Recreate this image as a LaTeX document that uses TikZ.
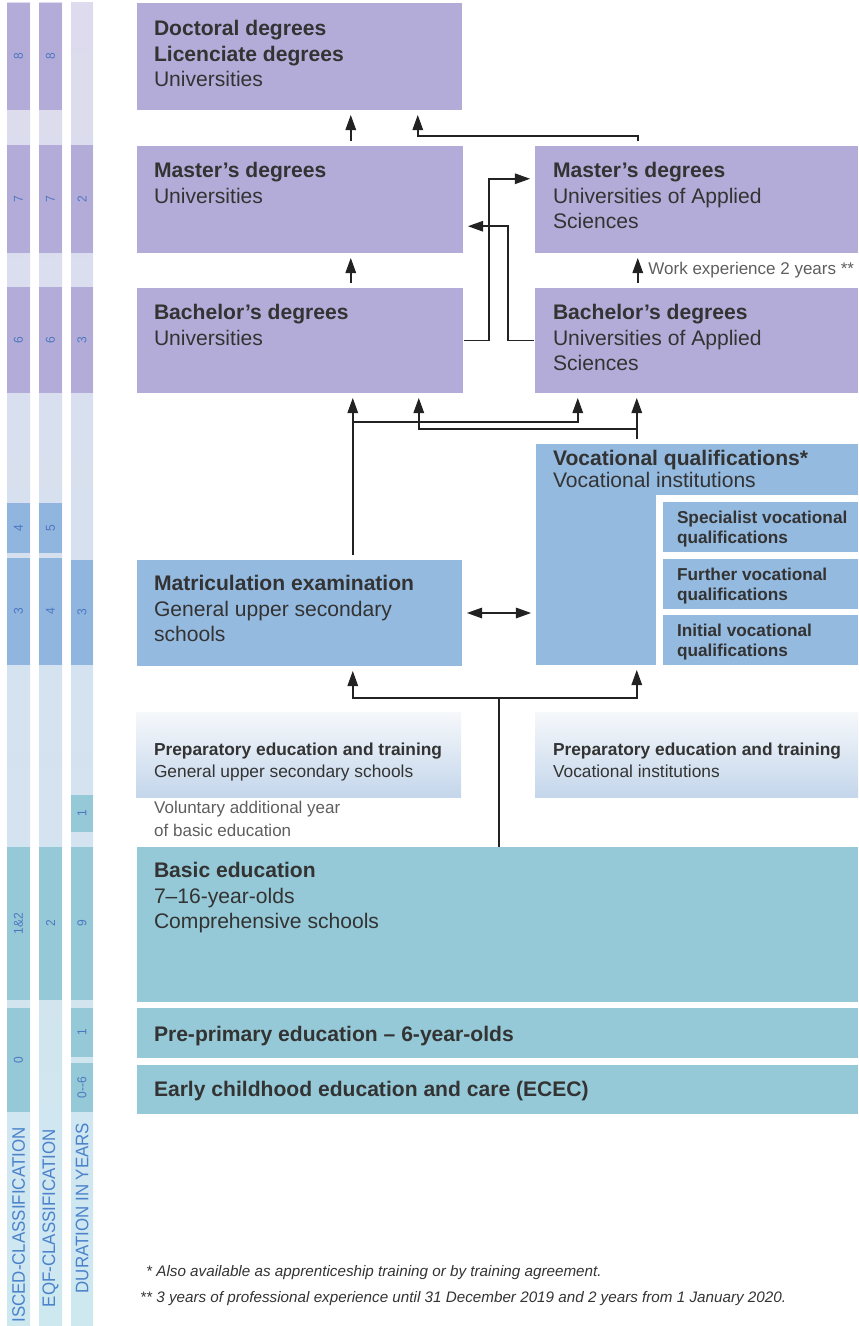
\documentclass[tikz,border=0pt]{standalone}
\usepackage{fontspec}
\setmainfont{Liberation Sans}
\newfontfamily\stripfont[FakeStretch=0.93]{Liberation Sans}
\usetikzlibrary{arrows.meta,positioning,calc,fit}

\definecolor{purp}{HTML}{B4ACD8}
\definecolor{bluebox}{HTML}{95BAE0}
\definecolor{bluestrip}{HTML}{90B5DE}
\definecolor{tealbox}{HTML}{95C9D7}
\definecolor{striptop}{HTML}{DDDBED}
\definecolor{stripmid}{HTML}{D5E0EC}
\definecolor{stripbot}{HTML}{CEE8F0}
\definecolor{preptop}{HTML}{F6F8FB}
\definecolor{prepbot}{HTML}{C4D6EB}
\definecolor{inkdark}{HTML}{222222}
\definecolor{inkgray}{HTML}{333333}
\definecolor{softgray}{HTML}{5E5E5E}
\definecolor{stripink}{HTML}{4A82CC}
\definecolor{numink}{HTML}{4C78C2}

\begin{document}
\begin{tikzpicture}[
  x=0.03cm, y=0.03cm,
  >={Triangle[length=13pt,width=9pt]},
  % ---- Boxes ----
  box/.style={fill=#1, draw=none, inner sep=0pt},
  prep/.style={top color=preptop, bottom color=prepbot, draw=none, inner sep=0pt},
  seg/.style={fill=#1, draw=none, inner sep=0pt},
  % ---- Texts ----
  num/.style={rotate=90, inner sep=0pt, text=numink, font=\stripfont\fontsize{11}{11}\selectfont},
  striplbl/.style={rotate=90, inner sep=0pt, text=stripink, font=\stripfont\fontsize{15.5}{15.5}\selectfont},
  head/.style={anchor=north west, align=left, inner sep=0pt, text=inkgray, font=\fontsize{18}{22}\selectfont},
  vochead/.style={head, font=\fontsize{18}{18.7}\selectfont},
  subq/.style={head, font=\bfseries\fontsize{14.7}{17}\selectfont},
  prepx/.style={head, font=\fontsize{14.8}{18.7}\selectfont},
  note/.style={head, text=softgray, font=\fontsize{14.5}{19.5}\selectfont},
  worklbl/.style={anchor=west, inner sep=0pt, xshift=8.5pt, text=softgray, font=\fontsize{14.5}{15}\selectfont},
  foot/.style={anchor=base west, inner sep=0pt, text=inkgray, font=\itshape\fontsize{13}{15}\selectfont},
  % ---- Lines ----
  wire/.style={line width=1.3pt, draw=inkdark},
  link/.style={wire, ->, shorten >=4pt, shorten <=4pt}
]
\useasboundingbox (0,0) rectangle (858,-1326);

% ===== Left strips (x in px, y down as negative px) =====
\shade[top color=striptop, middle color=stripmid, bottom color=stripbot] (7,-3) rectangle (30,-1326);
\shade[top color=striptop, middle color=stripmid, bottom color=stripbot] (39,-3) rectangle (62,-1326);
\shade[top color=striptop, middle color=stripmid, bottom color=stripbot] (71,-3) rectangle (93,-1326);

% ISCED
\node[seg=purp, fit={(7,-3)(30,-110)}, label={[num]center:8}] (isc8) {};
\node[seg=purp, fit={(7,-145)(30,-253)}, label={[num]center:7}] (isc7) {};
\node[seg=purp, fit={(7,-287)(30,-393)}, label={[num]center:6}] (isc6) {};
\node[seg=bluestrip, fit={(7,-503)(30,-553)}, label={[num]center:4}] (isc4) {};
\node[seg=bluestrip, fit={(7,-558)(30,-665)}, label={[num]center:3}] (isc3) {};
\node[seg=tealbox, fit={(7,-847)(30,-1000)}, label={[num]center:1\&2}] (isc12) {};
\node[seg=tealbox, fit={(7,-1008)(30,-1112)}, label={[num]center:0}] (isc0) {};
\node[striplbl] (isclbl) at (18.5,-1225) {ISCED-CLASSIFICATION};

% EQF
\node[seg=purp, fit={(39,-3)(62,-110)}, label={[num]center:8}] (eqf8) {};
\node[seg=purp, fit={(39,-145)(62,-253)}, label={[num]center:7}] (eqf7) {};
\node[seg=purp, fit={(39,-287)(62,-393)}, label={[num]center:6}] (eqf6) {};
\node[seg=bluestrip, fit={(39,-503)(62,-553)}, label={[num]center:5}] (eqf5) {};
\node[seg=bluestrip, fit={(39,-558)(62,-665)}, label={[num]center:4}] (eqf4) {};
\node[seg=tealbox, fit={(39,-847)(62,-1000)}, label={[num]center:2}] (eqf2) {};
\node[striplbl] (eqflbl) at (50.5,-1218) {EQF-CLASSIFICATION};

% Duration
\node[seg=purp, fit={(71,-145)(93,-253)}, label={[num]center:2}] (dur2) {};
\node[seg=purp, fit={(71,-287)(93,-393)}, label={[num]center:3}] (dur3a) {};
\node[seg=bluestrip, fit={(71,-560)(93,-665)}, label={[num]center:3}] (dur3b) {};
\node[seg=tealbox, fit={(71,-795)(93,-832)}, label={[num]center:1}] (dur1a) {};
\node[seg=tealbox, fit={(71,-847)(93,-1000)}, label={[num]center:9}] (dur9) {};
\node[seg=tealbox, fit={(71,-1008)(93,-1057)}, label={[num]center:1}] (dur1b) {};
\node[seg=tealbox, fit={(71,-1063)(93,-1112)}, label={[num]center:0--6}] (dur06) {};
\node[striplbl] (durlbl) at (82,-1208) {DURATION IN YEARS};

% ===== Higher education =====
\node[box=purp, fit={(137,-3)(462,-110)}] (doc) {};
\node[head] at ([shift={(17,-17)}]doc.north west) {\textbf{Doctoral degrees}\\\textbf{Licenciate degrees}\\Universities};

\node[box=purp, fit={(137,-146)(463,-253)}] (mastU) {};
\node[head] at ([shift={(17,-16)}]mastU.north west) {\textbf{Master’s degrees}\\Universities};

\node[box=purp, fit={(535,-146)(858,-253)}] (mastA) {};
\node[head] at ([shift={(18,-16)}]mastA.north west) {\textbf{Master’s degrees}\\Universities of Applied\\Sciences};

\node[box=purp, fit={(137,-288)(463,-393)}] (bachU) {};
\node[head] at ([shift={(17,-16)}]bachU.north west) {\textbf{Bachelor’s degrees}\\Universities};

\node[box=purp, fit={(535,-288)(858,-393)}] (bachA) {};
\node[head] at ([shift={(18,-16)}]bachA.north west) {\textbf{Bachelor’s degrees}\\Universities of Applied\\Sciences};

% ===== Upper secondary =====
\node[box=bluebox, fit={(536,-444)(858,-665)}] (voc) {};
\fill[white] (656,-495) rectangle (858,-665);
\node[vochead] at ([shift={(17,-6)}]voc.north west) {\textbf{Vocational qualifications*}\\Vocational institutions};

\node[box=bluebox, fit={(663,-502)(858,-552)}] (spec) {};
\node[subq] at ([shift={(14,-9)}]spec.north west) {Specialist vocational\\qualifications};
\node[box=bluebox, fit={(663,-559)(858,-609)}] (furt) {};
\node[subq] at ([shift={(14,-9)}]furt.north west) {Further vocational\\qualifications};
\node[box=bluebox, fit={(663,-615)(858,-665)}] (init) {};
\node[subq] at ([shift={(14,-9)}]init.north west) {Initial vocational\\qualifications};

\node[box=bluebox, fit={(137,-560)(462,-666)}] (mat) {};
\node[head] at ([shift={(17,-15)}]mat.north west) {\textbf{Matriculation examination}\\General upper secondary\\schools};

% ===== Preparatory =====
\node[prep, fit={(136,-712)(461,-797)}] (prepG) {};
\node[prepx] at ([shift={(18,-30.6)}]prepG.north west) {\textbf{Preparatory education and training}\\General upper secondary schools};
\node[prep, fit={(535,-712)(858,-797)}] (prepV) {};
\node[prepx] at ([shift={(18,-30.6)}]prepV.north west) {\textbf{Preparatory education and training}\\Vocational institutions};

\node[note] (vol) at (154,-801) {Voluntary additional year\\of basic education};

% ===== Basic and early education =====
\node[box=tealbox, fit={(137,-847)(858,-1002)}] (basic) {};
\node[head] at ([shift={(17,-15)}]basic.north west) {\textbf{Basic education}\\7–16-year-olds\\Comprehensive schools};

\node[box=tealbox, fit={(137,-1008)(858,-1058)}] (pre) {};
\node[head] at ([shift={(17,-18)}]pre.north west) {\textbf{Pre-primary education – 6-year-olds}};

\node[box=tealbox, fit={(137,-1065)(858,-1114)}] (ecec) {};
\node[head] at ([shift={(17,-16)}]ecec.north west) {\textbf{Early childhood education and care (ECEC)}};

% ===== Connections =====
\draw[link] ([shift={(214,0)}]mastU.north west) -- ([shift={(214,0)}]doc.south west);
\draw[link] ([shift={(103,0)}]mastA.north west) -- ++(0,10) -| ([shift={(281,0)}]doc.south west);

\draw[link] ([shift={(214,0)}]bachU.north west) -- ([shift={(214,0)}]mastU.south west);
\draw[link] ([shift={(103,0)}]bachA.north west) -- node[worklbl]{Work experience 2 years **} ([shift={(103,0)}]mastA.south west);

% crossing links between the two sectors
\draw[link, shorten <=1pt] (bachU.east) -- ++(26,0) |- ([shift={(0,-33)}]mastA.north west);
\draw[link, shorten <=1pt] (bachA.west) -- ++(-27,0) |- ([shift={(0,27)}]mastU.south east);

% upper secondary -> bachelors
\draw[link] ([shift={(216,0)}]mat.north west) -- ([shift={(216,0)}]bachU.south west);
\draw[link, shorten <=0pt] ([shift={(216,138)}]mat.north west) -| ([shift={(43,0)}]bachA.south west);
\draw[link] ([shift={(101,0)}]voc.north west) -- ([shift={(101,0)}]voc.north west |- bachA.south);
\draw[link, shorten <=0pt] ([shift={(101,15)}]voc.north west) -| ([shift={(282,0)}]bachU.south west);

\draw[link, <->] (mat.east) -- (mat.east -| voc.west);

% basic -> upper secondary
\coordinate (split) at ([shift={(362,149)}]basic.north west);
\draw[wire] ([shift={(362,0)}]basic.north west) -- (split);
\draw[link, shorten <=0pt] (split) -| ([shift={(216,0)}]mat.south west);
\draw[link, shorten <=0pt] (split) -| ([shift={(101,0)}]voc.south west);

% ===== Footnotes =====
\node[foot] (fn1) at (146,-1276) {* Also available as apprenticeship training or by training agreement.};
\node[foot] (fn2) at (140,-1302) {** 3 years of professional experience until 31 December 2019 and 2 years from 1 January 2020.};

\end{tikzpicture}
\end{document}
